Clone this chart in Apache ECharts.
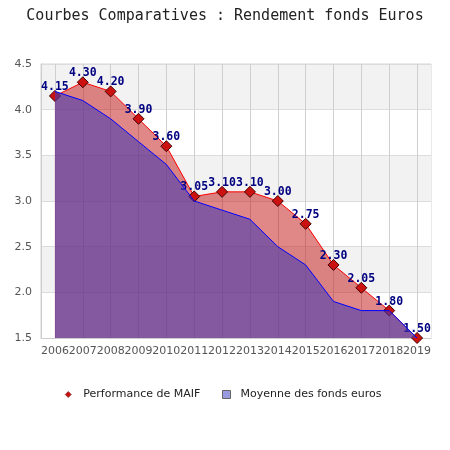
<!DOCTYPE html>
<html>
<head>
<meta charset="utf-8">
<script src="https://cdn.jsdelivr.net/npm/echarts@6/dist/echarts.min.js"></script>
<style>html,body{margin:0;padding:0;background:#fff}#c{width:450px;height:450px}</style>
</head>
<body>
<div id="c"></div>
<script>
const years = ['2006','2007','2008','2009','2010','2011','2012','2013','2014','2015','2016','2017','2018','2019'];
const maif = [4.15,4.30,4.20,3.90,3.60,3.05,3.10,3.10,3.00,2.75,2.30,2.05,1.80,1.50];
const moyenne = [4.20,4.10,3.90,3.65,3.40,3.00,2.90,2.80,2.50,2.30,1.90,1.80,1.80,1.50];
const yTicks = [1.5,2.0,2.5,3.0,3.5,4.0,4.5];
const seriesNames = ['Performance de MAIF','Moyenne des fonds euros'];

const chart = echarts.init(document.getElementById('c'), null, {renderer:'canvas'});
chart.setOption({
  animation: false,
  backgroundColor: '#fff',
  title: {
    text: 'Courbes Comparatives : Rendement fonds Euros',
    left: 'center', top: 4,
    textStyle: {fontFamily: 'DejaVu Sans Mono', fontSize: 15, fontWeight: 'normal', color: '#222'}
  },
  legend: [
    {
      data: [{name: seriesNames[0], icon: 'diamond', itemStyle: {color: '#cc1111', borderColor: '#550000', borderWidth: 0.5}}],
      left: 65, top: 389, padding: 0, itemWidth: 6, itemHeight: 6,
      textStyle: {fontFamily: 'DejaVu Sans', fontSize: 11, color: '#222', padding: [0,0,0,7]}
    },
    {
      data: [{name: seriesNames[1], icon: 'rect', itemStyle: {color: '#9999dd', borderColor: '#666', borderWidth: 1}}],
      left: 222, top: 389, padding: 0, itemWidth: 8, itemHeight: 8,
      textStyle: {fontFamily: 'DejaVu Sans', fontSize: 11, color: '#222', padding: [0,0,0,5]}
    }
  ],
  grid: {left: 41, right: 19, top: 64, bottom: 112, show: true, borderColor: '#d4d4d4', borderWidth: 1, containLabel: false},
  xAxis: {
    type: 'category', data: years, boundaryGap: true,
    axisLine: {show: true, lineStyle: {color: '#ccc'}},
    axisTick: {show: false},
    axisLabel: {interval: 0, fontFamily: 'DejaVu Sans', fontSize: 11, color: '#555', margin: 8},
    splitLine: {show: true, alignWithLabel: true, interval: 0, lineStyle: {color: '#cfcfcf', width: 1}}
  },
  yAxis: {
    type: 'value', min: yTicks[0], max: yTicks[yTicks.length-1], interval: 0.5,
    axisLine: {show: true, lineStyle: {color: '#ccc'}},
    axisTick: {show: false},
    axisLabel: {fontFamily: 'DejaVu Sans', fontSize: 11, color: '#555', margin: 9, formatter: v => v.toFixed(1)},
    splitLine: {show: true, lineStyle: {color: '#dcdcdc'}},
    splitArea: {show: true, areaStyle: {color: ['#ffffff', '#f2f2f2']}}
  },
  series: [
    {
      name: seriesNames[0], type: 'line', data: maif,
      symbol: 'diamond', symbolSize: 11,
      itemStyle: {color: '#cc1111', borderColor: '#440000', borderWidth: 1},
      lineStyle: {color: '#ff0000', width: 1},
      areaStyle: {color: 'rgba(193,17,17,0.5)', opacity: 1},
      label: {show: true, position: 'top', distance: 1, offset: [0, 4], formatter: p => p.value.toFixed(2),
        fontFamily: 'DejaVu Sans Mono', fontWeight: 'bold', fontSize: 11.5, color: '#000080'},
      z: 2
    },
    {
      name: seriesNames[1], type: 'line', data: moyenne,
      symbol: 'none',
      itemStyle: {color: '#9999dd'},
      lineStyle: {color: '#0000ff', width: 1},
      areaStyle: {color: 'rgba(72,58,176,0.6)', opacity: 1},
      z: 3
    }
  ]
});
</script>
</body>
</html>
